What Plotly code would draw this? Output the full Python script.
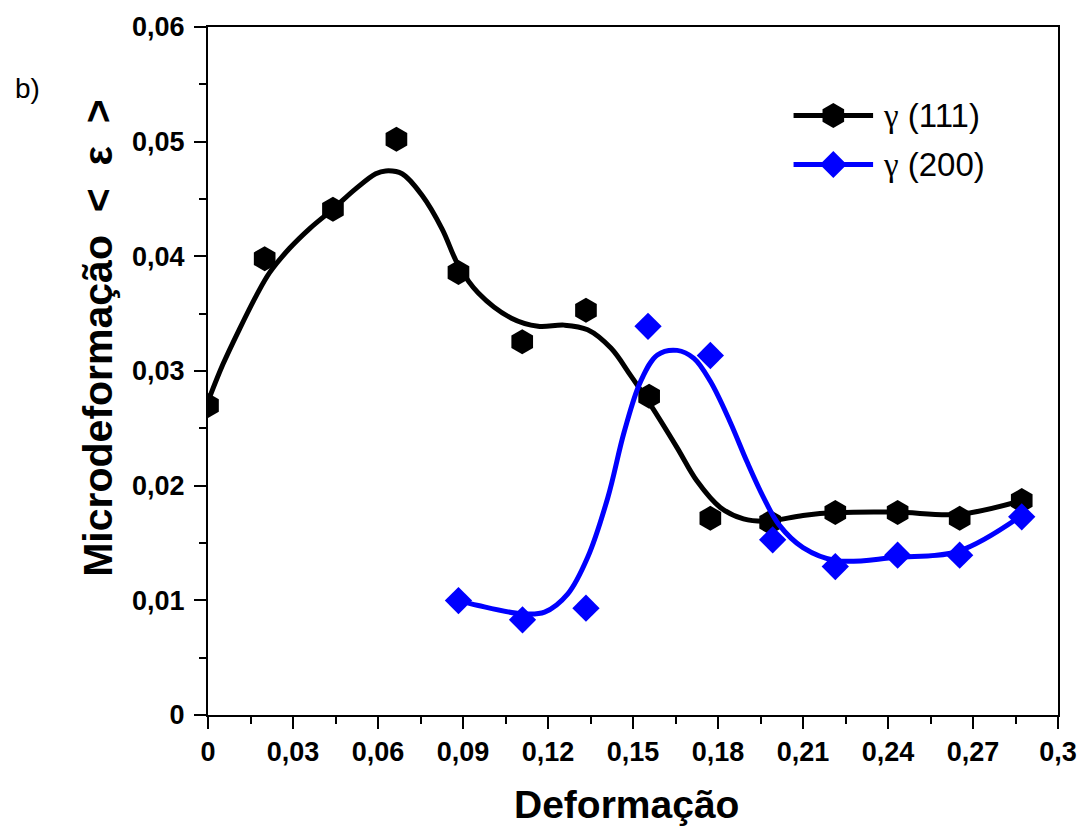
import plotly.graph_objects as go

# ---- data ----
x_111 = [0.0, 0.020, 0.0441, 0.0665, 0.0884, 0.1109, 0.1334, 0.1557, 0.1773, 0.1984, 0.2214, 0.2434, 0.2653, 0.2872]
y_111 = [0.0270, 0.0398, 0.0441, 0.0502, 0.0386, 0.03256, 0.0353, 0.0278, 0.01715, 0.0168, 0.01765, 0.01765, 0.01715, 0.0187]

x_200 = [0.0884, 0.1110, 0.1334, 0.1553, 0.1773, 0.1993, 0.2214, 0.2434, 0.2653, 0.2872]
y_200 = [0.00998, 0.0083, 0.00932, 0.0339, 0.03135, 0.01528, 0.01294, 0.01394, 0.01394, 0.01728]

# smoothed curves
cx_111 = [0.0, 0.0053, 0.0112, 0.0171, 0.0218, 0.0288, 0.0358, 0.044, 0.0522, 0.0592, 0.0627,
          0.0685, 0.0756, 0.0826, 0.0884, 0.0954, 0.1071, 0.1165, 0.1258, 0.134, 0.1422,
          0.1492, 0.1563, 0.1656, 0.1726, 0.1808, 0.1890, 0.1972, 0.21, 0.2218, 0.2428, 0.265, 0.2872]
cy_111 = [0.02735, 0.0306, 0.0337, 0.0366, 0.0386, 0.0407, 0.0424, 0.0441, 0.0459, 0.0472, 0.04745,
          0.0472, 0.0453, 0.0424, 0.0392, 0.0368, 0.0346, 0.0339, 0.0340, 0.0336, 0.0320,
          0.0296, 0.0270, 0.0233, 0.0204, 0.0181, 0.0171, 0.0169, 0.0174, 0.01765, 0.0177, 0.0175, 0.0187]

cx_200 = [0.0884, 0.0954, 0.1107, 0.1188, 0.127, 0.134, 0.1411, 0.1469, 0.1527, 0.1586, 0.1656,
          0.1715, 0.1773, 0.1842, 0.1902, 0.196, 0.2015, 0.21, 0.2218, 0.2428, 0.265, 0.2872]
cy_200 = [0.0100, 0.00955, 0.00883, 0.00897, 0.01056, 0.01375, 0.01895, 0.0247, 0.0291, 0.0314, 0.0318,
          0.0311, 0.0291, 0.0256, 0.0221, 0.0190, 0.0166, 0.0146, 0.01346, 0.01375, 0.0143, 0.0174]

x_ticks = [0, 0.03, 0.06, 0.09, 0.12, 0.15, 0.18, 0.21, 0.24, 0.27, 0.3]
x_ticktext = ["0", "0,03", "0,06", "0,09", "0,12", "0,15", "0,18", "0,21", "0,24", "0,27", "0,3"]
y_ticks = [0, 0.01, 0.02, 0.03, 0.04, 0.05, 0.06]
y_ticktext = ["0", "0,01", "0,02", "0,03", "0,04", "0,05", "0,06"]

series_names = ["(111)", "(200)"]
colors = ["#000000", "#0000ff"]

FONT = "Liberation Sans, Arial, sans-serif"

fig = go.Figure()
fig.add_trace(go.Scatter(x=cx_111, y=cy_111, mode="lines", line=dict(color=colors[0], width=5, shape="spline"),
                         showlegend=False, hoverinfo="skip"))
fig.add_trace(go.Scatter(x=x_111, y=y_111, mode="markers", name="γ " + series_names[0],
                         marker=dict(symbol="hexagon", size=25, color=colors[0], line=dict(width=0)),
                         showlegend=False))
fig.add_trace(go.Scatter(x=cx_200, y=cy_200, mode="lines", line=dict(color=colors[1], width=5, shape="spline"),
                         showlegend=False, hoverinfo="skip"))
fig.add_trace(go.Scatter(x=x_200, y=y_200, mode="markers", name="γ " + series_names[1],
                         marker=dict(symbol="diamond", size=21, color=colors[1], line=dict(width=0)),
                         showlegend=False))

axis_common = dict(showline=True, linecolor="black", linewidth=2, mirror=True, showgrid=False,
                   zeroline=False, ticks="outside", ticklen=12, tickwidth=2, tickcolor="black",
                   tickfont=dict(family=FONT, size=27, color="black", weight="bold"))

fig.update_xaxes(range=[0, 0.3], tickvals=x_ticks, ticktext=x_ticktext,
                 minor=dict(ticks="outside", ticklen=7, tickwidth=2, tickcolor="black", dtick=0.015, tick0=0),
                 **axis_common)
fig.update_yaxes(range=[0, 0.06], tickvals=y_ticks, ticktext=y_ticktext, ticklabelstandoff=4,
                 minor=dict(ticks="outside", ticklen=7, tickwidth=2, tickcolor="black", dtick=0.005, tick0=0),
                 **axis_common)

# custom legend (pixel-sized glyphs anchored in paper coords)
W, H = 855.0, 691.0
def px(xp):
    return (xp - 208) / W
def py(yp):
    return (715 - yp) / H

legend_rows = [113, 162]
for i, yr in enumerate(legend_rows):
    fig.add_shape(type="line", xref="paper", yref="paper", x0=px(797), x1=px(877), y0=py(yr), y1=py(yr),
                  line=dict(color=colors[i], width=5))
    if i == 0:
        path = "M10.8,-6.25 V6.25 L0,12.5 L-10.8,6.25 V-6.25 L0,-12.5 Z"
    else:
        path = "M13.5,0 L0,13.5 L-13.5,0 L0,-13.5 Z"
    fig.add_shape(type="path", xref="paper", yref="paper", xsizemode="pixel", ysizemode="pixel",
                  xanchor=px(837), yanchor=py(yr), path=path,
                  fillcolor=colors[i], line=dict(width=0))
    label = '<span style="font-family:Liberation Serif, serif">γ</span> ' + series_names[i]
    fig.add_annotation(text=label, xref="paper", yref="paper", x=px(885), y=py(yr),
                       xanchor="left", yanchor="middle", showarrow=False,
                       font=dict(family=FONT, size=33, color="black"))

fig.add_annotation(text="Deformação", xref="paper", yref="paper", x=px(628.5), y=py(805),
                   xanchor="center", yanchor="middle", showarrow=False,
                   font=dict(family=FONT, size=39, color="black", weight="bold"))
fig.add_annotation(text="Microdeformação\u00a0\u00a0<\u00a0\u00a0ε\u00a0\u00a0>", xref="paper", yref="paper",
                   x=px(98), y=py(336.5),
                   xanchor="center", yanchor="middle", textangle=-90, showarrow=False,
                   font=dict(family=FONT, size=41, color="black", weight="bold"))
fig.add_annotation(text="b)", xref="paper", yref="paper", x=px(12), y=py(86),
                   xanchor="left", yanchor="middle", showarrow=False,
                   font=dict(family=FONT, size=28, color="black"))

fig.update_layout(width=1089, height=831, margin=dict(l=208, r=26, t=24, b=116),
                  plot_bgcolor="white", paper_bgcolor="white", showlegend=False)

fig.write_html("out.html")
